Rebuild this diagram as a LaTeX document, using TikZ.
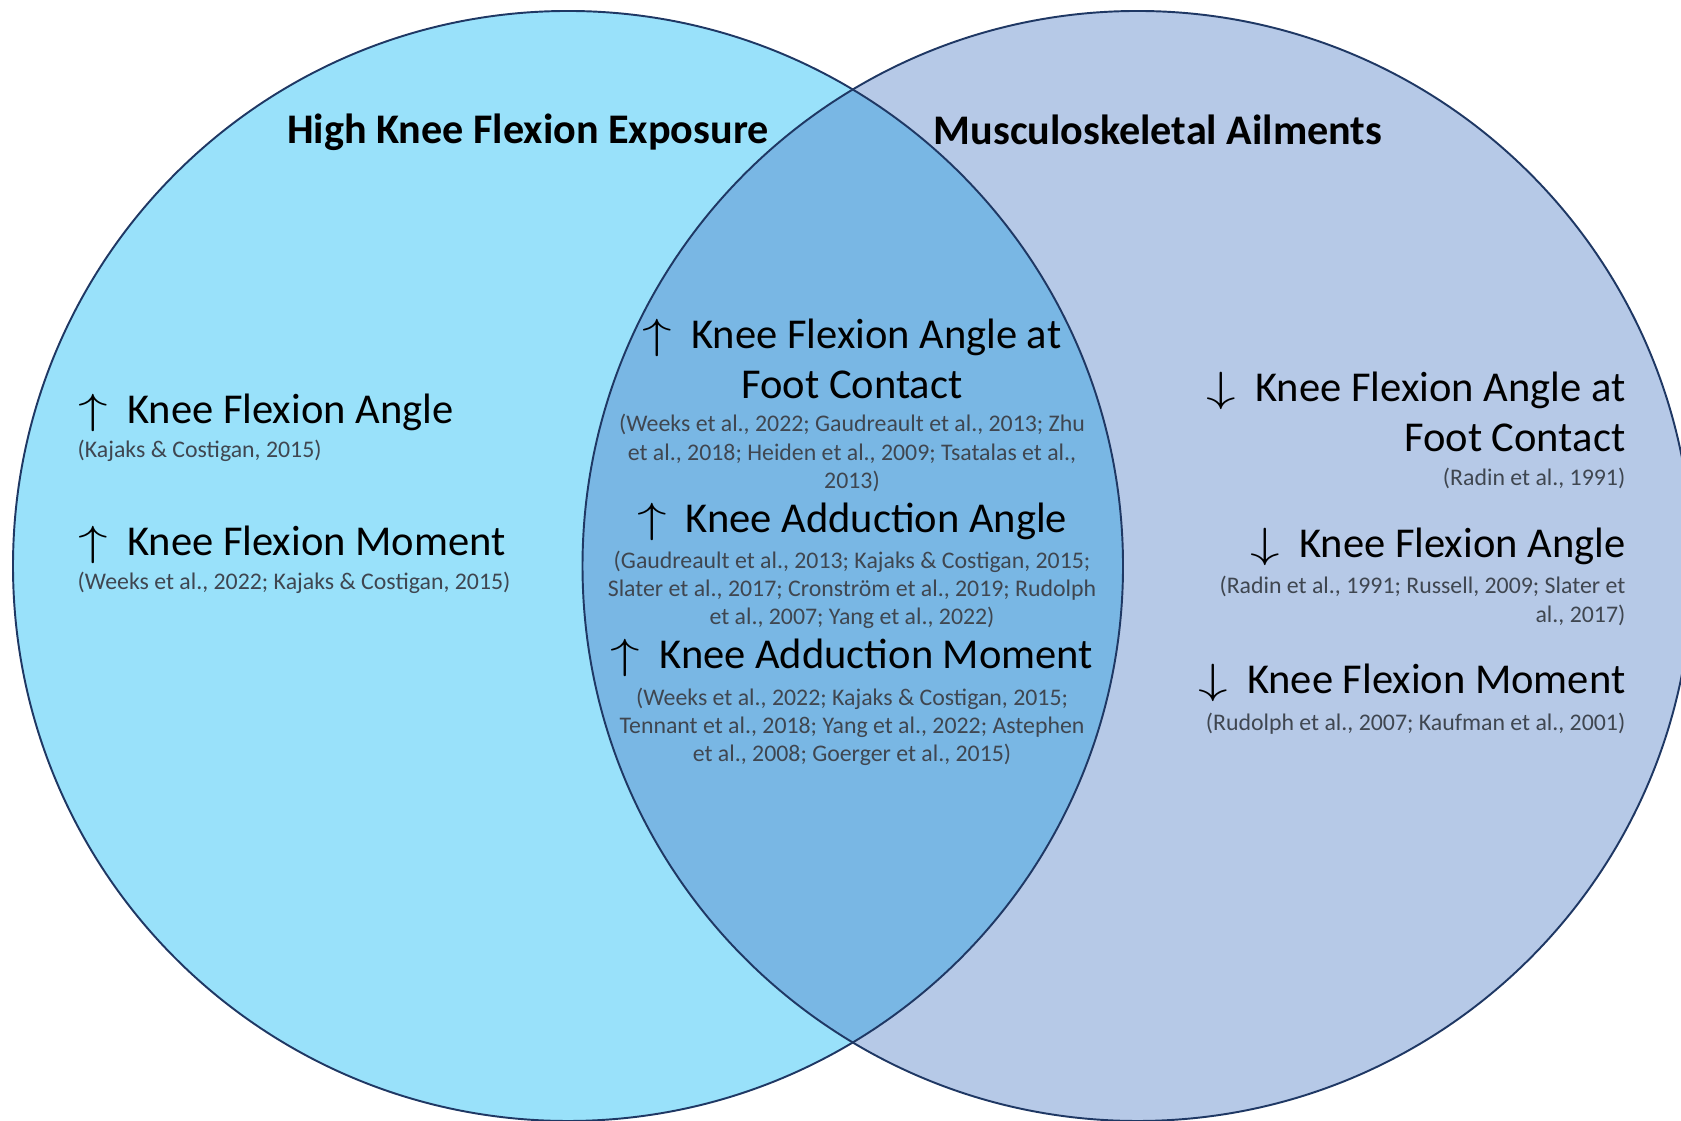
\documentclass[tikz,border=0pt]{standalone}
\usepackage{fontspec}
\setmainfont{Carlito}
\usepackage{tikz}
\definecolor{exposurefill}{HTML}{99E1FA}
\definecolor{ailmentfill}{HTML}{B6C9E7}
\definecolor{overlapfill}{HTML}{79B7E4}
\definecolor{rimcolor}{HTML}{1F3864}
\definecolor{citegray}{HTML}{3F4650}
\newcommand{\upmark}{\scalebox{1.4}[1]{$\uparrow$}\hspace{0.45em}}
\newcommand{\downmark}{\scalebox{1.4}[1]{$\downarrow$}\hspace{0.45em}}

\begin{document}
\begin{tikzpicture}[every node/.style={inner sep=0pt},
    rim/.style={draw=rimcolor, line width=0.55pt},
    title/.style={font=\fontsize{12}{14}\selectfont\bfseries},
    head/.style={font=\fontsize{12.1}{14}\selectfont},
    cite/.style={font=\fontsize{6.78}{8.05}\selectfont, text=citegray}]
  % canvas
  \useasboundingbox (0,0) rectangle (16.81,11.21);
  \fill[white] (0,0) rectangle (16.81,11.21);
  \coordinate (lc) at (5.68,5.55);
  \coordinate (rc) at (11.375,5.55);
  \begin{scope}
    \clip (0,0) rectangle (16.81,11.21);
    \fill[exposurefill] (lc) circle (5.55);
    \fill[ailmentfill] (rc) circle (5.55);
    \begin{scope}
      \clip (lc) circle (5.55);
      \fill[overlapfill] (rc) circle (5.55);
    \end{scope}
    \draw[rim] (lc) circle (5.55);
    \draw[rim] (rc) circle (5.55);
  \end{scope}
  % set titles
  \node[title] (ltitle) at (5.28,9.89) {High Knee Flexion Exposure};
  \node[title] (rtitle) at (11.58,9.91) {Musculoskeletal Ailments};
  % left set
  \node[head, anchor=west] (l1) at (0.78,7.08) {\upmark Knee Flexion Angle};
  \node[cite, anchor=west] (l1c) at (0.77,6.70) {(Kajaks \& Costigan, 2015)};
  \node[head, anchor=west] (l2) at (0.78,5.76) {\upmark Knee Flexion Moment};
  \node[cite, anchor=west] (l2c) at (0.77,5.38) {(Weeks et al., 2022; Kajaks \& Costigan, 2015)};
  % overlap
  \node[head, align=center] (m1) at (8.52,7.62) {\upmark Knee Flexion Angle at\\Foot Contact};
  \node[cite, align=center] (m1c) at (8.52,6.68) {(Weeks et al., 2022; Gaudreault et al., 2013; Zhu\\et al., 2018; Heiden et al., 2009; Tsatalas et al.,\\2013)};
  \node[head] (m2) at (8.52,5.99) {\upmark Knee Adduction Angle};
  \node[cite, align=center] (m2c) at (8.52,5.31) {(Gaudreault et al., 2013; Kajaks \& Costigan, 2015;\\Slater et al., 2017; Cronstr\"om et al., 2019; Rudolph\\et al., 2007; Yang et al., 2022)};
  \node[head] (m3) at (8.52,4.63) {\upmark Knee Adduction Moment};
  \node[cite, align=center] (m3c) at (8.52,3.94) {(Weeks et al., 2022; Kajaks \& Costigan, 2015;\\Tennant et al., 2018; Yang et al., 2022; Astephen\\et al., 2008; Goerger et al., 2015)};
  % right set
  \node[head, align=right, anchor=east] (r1) at (16.26,7.09) {\downmark Knee Flexion Angle at\\Foot Contact};
  \node[cite, anchor=east] (r1c) at (16.26,6.43) {(Radin et al., 1991)};
  \node[head, anchor=east] (r2) at (16.26,5.74) {\downmark Knee Flexion Angle};
  \node[cite, align=right, anchor=east] (r2c) at (16.26,5.20) {(Radin et al., 1991; Russell, 2009; Slater et\\al., 2017)};
  \node[head, anchor=east] (r3) at (16.26,4.38) {\downmark Knee Flexion Moment};
  \node[cite, anchor=east] (r3c) at (16.26,3.97) {(Rudolph et al., 2007; Kaufman et al., 2001)};
\end{tikzpicture}
\end{document}
